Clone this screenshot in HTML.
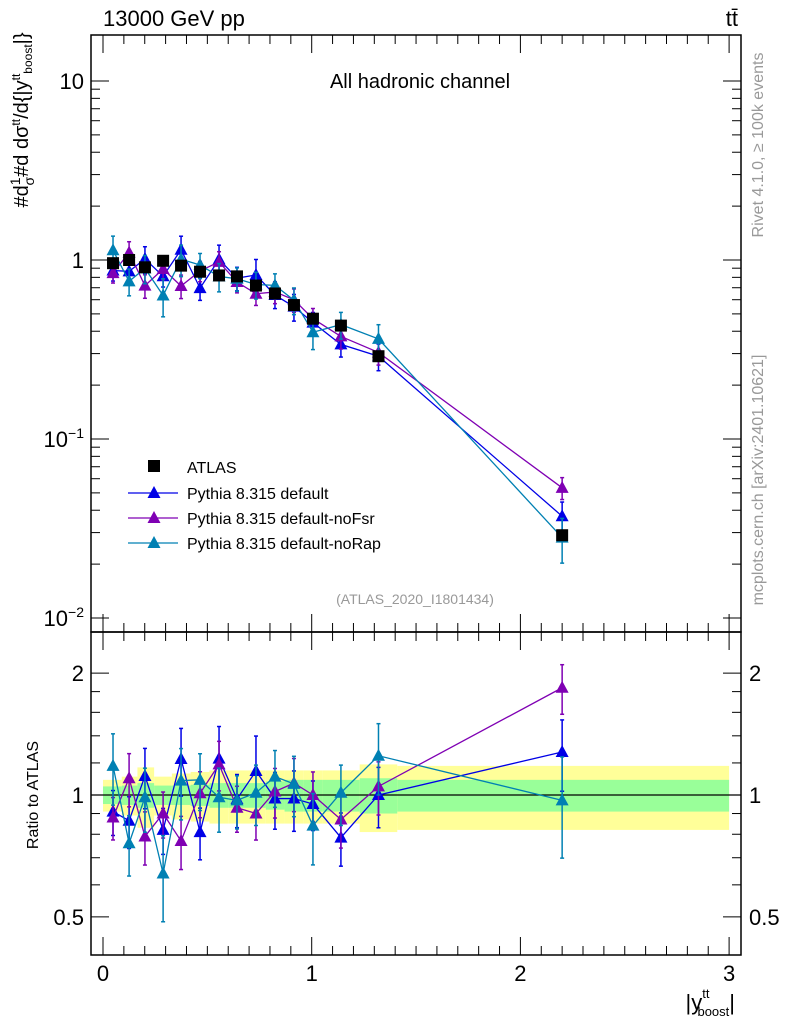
<!DOCTYPE html>
<html><head><meta charset="utf-8"><style>
body{margin:0;background:#fff;}
svg{font-family:"Liberation Sans",sans-serif;}
</style></head><body>
<svg id="c" width="786" height="1024" xmlns="http://www.w3.org/2000/svg"></svg>
<script>
const xCenters=[0.048,0.125,0.201,0.288,0.374,0.465,0.556,0.642,0.733,0.824,0.915,1.006,1.14,1.32,2.2];
const binEdges=[0,0.09,0.165,0.245,0.33,0.42,0.51,0.6,0.69,0.78,0.87,0.96,1.05,1.23,1.41,3.0];
const atlasVals=[0.96,1.0,0.91,0.99,0.93,0.86,0.82,0.81,0.72,0.65,0.56,0.47,0.43,0.29,0.029];
const statErr=[0.05,0.055,0.07,0.055,0.055,0.06,0.07,0.07,0.07,0.08,0.09,0.09,0.09,0.1,0.09];
const totErr=[0.09,0.11,0.17,0.11,0.13,0.14,0.15,0.15,0.15,0.15,0.15,0.15,0.15,0.19,0.18];
const ratioDefault=[0.91,0.864,1.114,0.82,1.227,0.81,1.23,0.977,1.146,0.98,0.98,0.95,0.785,1.0,1.277];
const ratioNoFsr=[0.88,1.10,0.79,0.90,0.77,1.01,1.19,0.93,0.90,1.02,1.07,1.0,0.87,1.05,1.84];
const ratioNoRap=[1.18,0.76,0.987,0.64,1.085,1.09,0.987,0.97,1.013,1.11,1.065,0.84,1.013,1.25,0.97];
const errDefault=[0.127,0.146,0.17,0.13,0.19,0.146,0.2,0.15,0.22,0.16,0.17,0.14,0.15,0.17,0.2];
const errNoFsr=[0.12,0.15,0.15,0.13,0.15,0.13,0.14,0.13,0.14,0.14,0.15,0.14,0.15,0.15,0.14];
const errNoRap=[0.2,0.17,0.18,0.24,0.2,0.16,0.18,0.15,0.17,0.16,0.17,0.2,0.17,0.2,0.28];
const xTicks=[0,1,2,3];

const S=document.getElementById('c');const NS='http://www.w3.org/2000/svg';
function mk(t,a,p){const e=document.createElementNS(NS,t);for(const k in a)e.setAttribute(k,a[k]);(p||S).appendChild(e);return e;}
const L=91,R=741,T=35,M=632,B=955;
const X=v=>103+v*208.7;
const Y=v=>260-Math.log10(v)*179;
const YR=v=>795-Math.log10(v)*405;

// bands
const bands=mk('g',{});
for(let i=0;i<xCenters.length;i++){
  const x0=X(binEdges[i]),x1=X(binEdges[i+1]);
  mk('rect',{x:x0,y:YR(1+totErr[i]),width:x1-x0,height:YR(1-totErr[i])-YR(1+totErr[i]),fill:'#ffff99'},bands);
}
for(let i=0;i<xCenters.length;i++){
  const x0=X(binEdges[i]),x1=X(binEdges[i+1]);
  mk('rect',{x:x0,y:YR(1+statErr[i]),width:x1-x0,height:YR(1-statErr[i])-YR(1+statErr[i]),fill:'#99ff99'},bands);
}
mk('line',{x1:L,x2:R,y1:YR(1),y2:YR(1),stroke:'#000','stroke-width':1.2});

// frames
mk('rect',{x:L,y:T,width:R-L,height:M-T,fill:'none',stroke:'#000','stroke-width':1.5});
mk('rect',{x:L,y:M,width:R-L,height:B-M,fill:'none',stroke:'#000','stroke-width':1.5});

// log ticks main
for(let d=-2;d<=1;d++){for(let m=1;m<10;m++){const v=m*Math.pow(10,d);const y=Y(v);if(y<T||y>M)continue;const len=m==1?18:9;
  mk('line',{x1:L,x2:L+len,y1:y,y2:y,stroke:'#000'});mk('line',{x1:R,x2:R-len,y1:y,y2:y,stroke:'#000'});}}
[[10,'10'],[1,'1']].forEach(([v,t])=>{const e=mk('text',{x:84,y:Y(v)+8,'text-anchor':'end','font-size':22});e.textContent=t;});
[[0.1,'−1'],[0.01,'−2']].forEach(([v,t])=>{const e=mk('text',{x:84,y:Y(v)+8,'text-anchor':'end','font-size':22});e.innerHTML='10<tspan font-size="14" dy="-9">'+t+'</tspan>';});
// ratio ticks
[0.5,0.6,0.7,0.8,0.9,1,2].forEach(v=>{const y=YR(v);const len=(v==0.5||v==1||v==2)?18:9;mk('line',{x1:L,x2:L+len,y1:y,y2:y,stroke:'#000'});mk('line',{x1:R,x2:R-len,y1:y,y2:y,stroke:'#000'});});
[1.2,1.4,1.6,1.8].forEach(v=>{const y=YR(v);mk('line',{x1:L,x2:L+9,y1:y,y2:y,stroke:'#000'});mk('line',{x1:R,x2:R-9,y1:y,y2:y,stroke:'#000'});});
[[2,'2'],[1,'1'],[0.5,'0.5']].forEach(([v,t])=>{
 let e=mk('text',{x:84,y:YR(v)+8,'text-anchor':'end','font-size':22});e.textContent=t;
 e=mk('text',{x:749,y:YR(v)+8,'font-size':22});e.textContent=t;});
// x ticks
for(let k=0;k<=30;k++){const v=k/10;const x=X(v);if(x>R)break;const len=k%10==0?18:9;
 [[T,1],[M,1],[M,-1],[B,-1]].forEach(([y0,s])=>mk('line',{x1:x,x2:x,y1:y0,y2:y0+s*len,stroke:'#000'}));}
xTicks.forEach(v=>{const e=mk('text',{x:X(v),y:981,'text-anchor':'middle','font-size':22});e.textContent=v;});

// series
const series=[
 {name:'pythia-default',r:ratioDefault,e:errDefault,c:'#0000e6'},
 {name:'pythia-nofsr',r:ratioNoFsr,e:errNoFsr,c:'#7f00b3'},
 {name:'pythia-norap',r:ratioNoRap,e:errNoRap,c:'#0080b3'}];
function tri(g,x,y,c){mk('path',{d:`M${x},${y-7}L${x+6.5},${y+5}L${x-6.5},${y+5}Z`,fill:c},g);}
series.forEach(s=>{
 const g=mk('g',{});
 const pm=[],pr=[];
 xCenters.forEach((xc,i)=>{const v=atlasVals[i]*s.r[i];pm.push(X(xc)+','+Y(v));pr.push(X(xc)+','+YR(s.r[i]));});
 mk('polyline',{points:pm.join(' '),fill:'none',stroke:s.c,'stroke-width':1.3},g);
 mk('polyline',{points:pr.join(' '),fill:'none',stroke:s.c,'stroke-width':1.3},g);
 xCenters.forEach((xc,i)=>{const x=X(xc);const v=atlasVals[i]*s.r[i];
  [[Y(v*(1+s.e[i])),Y(v*(1-s.e[i]))],[YR(s.r[i]*(1+s.e[i])),YR(s.r[i]*(1-s.e[i]))]].forEach(([a,b])=>{
   mk('line',{x1:x,x2:x,y1:a,y2:b,stroke:s.c,'stroke-width':1.5},g);
   mk('line',{x1:x-2,x2:x+2,y1:a,y2:a,stroke:s.c,'stroke-width':1.5},g);
   mk('line',{x1:x-2,x2:x+2,y1:b,y2:b,stroke:s.c,'stroke-width':1.5},g);});
  tri(g,x,Y(v),s.c);tri(g,x,YR(s.r[i]),s.c);});
});
// atlas points
const ga=mk('g',{});
xCenters.forEach((xc,i)=>{mk('rect',{x:X(xc)-6,y:Y(atlasVals[i])-6,width:12,height:12,fill:'#000'},ga);});

// legend
const lg=mk('g',{});
mk('rect',{x:148,y:460,width:12,height:12,fill:'#000'},lg);
let t=mk('text',{x:187,y:473,'font-size':16},lg);t.textContent='ATLAS';
const ln=['Pythia 8.315 default','Pythia 8.315 default-noFsr','Pythia 8.315 default-noRap'];
series.forEach((s,i)=>{const y=493+i*25;mk('line',{x1:128,x2:178,y1:y,y2:y,stroke:s.c,'stroke-width':1.3},lg);tri(lg,154,y,s.c);
 const e=mk('text',{x:187,y:y+6,'font-size':16},lg);e.textContent=ln[i];});

// texts
function txt(x,y,s,c,a,name,extra){const e=mk('text',Object.assign({x:x,y:y,'font-size':s,fill:c||'#000','text-anchor':a||'start'},extra||{}));e.textContent=name[1];return e;}
txt(103,26,22,'#000','start',['energy-label','13000 GeV pp']);
txt(738,26,22,'#000','end',['process-label','tt̄']);
txt(420,88,20,'#000','middle',['channel-label','All hadronic channel']);
txt(415,604,14,'#999','middle',['analysis-id','(ATLAS_2020_I1801434)']);
txt(0,0,16,'#999','middle',['rivet-label','Rivet 4.1.0, ≥ 100k events'],{transform:'translate(763,145) rotate(-90)'});
txt(0,0,16,'#999','middle',['mcplots-label','mcplots.cern.ch [arXiv:2401.10621]'],{transform:'translate(763,480) rotate(-90)'});
txt(0,0,16,'#000','middle',['ratio-axis-title','Ratio to ATLAS'],{transform:'translate(38,795) rotate(-90)'});
const yt=mk('text',{transform:'translate(28,120) rotate(-90)','font-size':20,'text-anchor':'middle'});
yt.innerHTML='#d<tspan font-size="14" dy="-8">1</tspan><tspan dy="14" dx="-8" font-size="14">σ</tspan><tspan dy="-6">#d</tspan> dσ<tspan font-size="12" dy="-8">tt</tspan><tspan dy="8">/d{|y</tspan><tspan font-size="12" dy="-8">tt</tspan><tspan font-size="12" dy="12">boost</tspan><tspan dy="-4">|}</tspan>';

const xt=mk('text',{x:735,y:1010,'font-size':22,'text-anchor':'end'});
xt.innerHTML='|y<tspan font-size="13" dy="-12">tt</tspan><tspan font-size="13" dy="18" dx="-12">boost</tspan><tspan dy="-6">|</tspan>';

</script>
</body></html>
